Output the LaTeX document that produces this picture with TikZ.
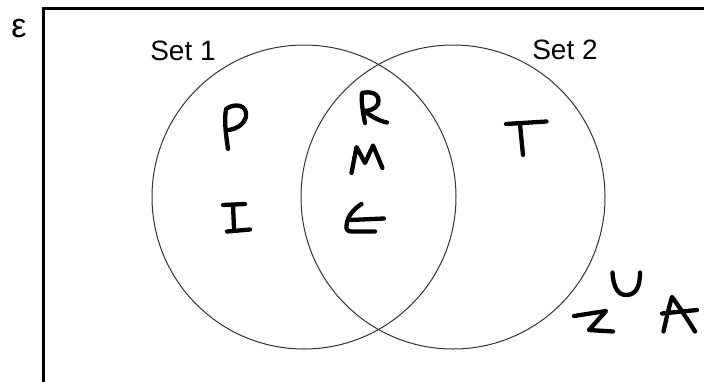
\documentclass[tikz,border=0pt]{standalone}
\usepackage{fontspec}
\setmainfont{Liberation Sans}
\begin{document}
\begin{tikzpicture}[x=1pt,y=-1pt,
  setring/.style={circle,draw=black!80,line width=1pt,inner sep=0pt,minimum size=304pt},
  label/.style={inner sep=0pt,font=\fontsize{28}{33}\selectfont},
  pen/.style={line width=4.3pt,line cap=round,line join=round}]
\useasboundingbox (0,0) rectangle (704,381);

% universal set frame (runs off the page to the right and bottom)
\draw[line width=3pt] (43,395) -- (43,8) -- (720,8);
\node[inner sep=0pt,font=\fontsize{34}{40}\selectfont] (univ) at (19,29) {ε};

% the two sets
\node[setring] (set1) at (304,197) {};
\node[setring] (set2) at (453,197) {};
\node[label] (name1) at (183,51) {Set 1};
\node[label] (name2) at (565,50) {Set 2};

% handwritten elements
% P
\draw[pen] (228,149) .. controls (226,135) and (224,122) .. (226,109)
  .. controls (234,103) and (248,104) .. (246,117)
  .. controls (243,126) and (235,129) .. (229,130);
% I
\draw[pen] (223,205) -- (245,204);
\draw[pen] (233,205) -- (234,228);
\draw[pen] (227,231.5) -- (250,229.5);
% R
\draw[pen] (365,123) .. controls (363,113) and (361,102) .. (362,93)
  .. controls (370,91) and (381,93) .. (378,104)
  .. controls (376,109) and (369,111) .. (363,111);
\draw[pen] (364,111) .. controls (371,116) and (379,121) .. (387,122.5);
% M
\draw[pen] (351.5,173) -- (356.5,147) -- (365,163) -- (373,145.5) -- (382.5,168);
% E (looped)
\draw[pen] (361.5,204) .. controls (354,209) and (347,216) .. (346.5,226)
  .. controls (346,230) and (348,231.5) .. (352,231.5) -- (375,231.5);
\draw[pen] (350,220) -- (384,218.5);
% T
\draw[pen] (506,124) -- (546.5,121.5);
\draw[pen] (520,124) .. controls (521,135) and (522,145) .. (523,155);
% Z
\draw[pen] (574,316) -- (606,311) -- (589,330) -- (613,331.5);
% U
\draw[pen] (612.5,272.5) .. controls (613,283) and (616,295) .. (626,295)
  .. controls (637,295) and (640,285) .. (640,272.5);
% A
\draw[pen] (663.5,331.5) .. controls (666,320) and (669,307) .. (672,297)
  .. controls (680,308) and (688,320) .. (695,331.5);
\draw[pen] (662,313.5) -- (697,310);
\end{tikzpicture}
\end{document}
